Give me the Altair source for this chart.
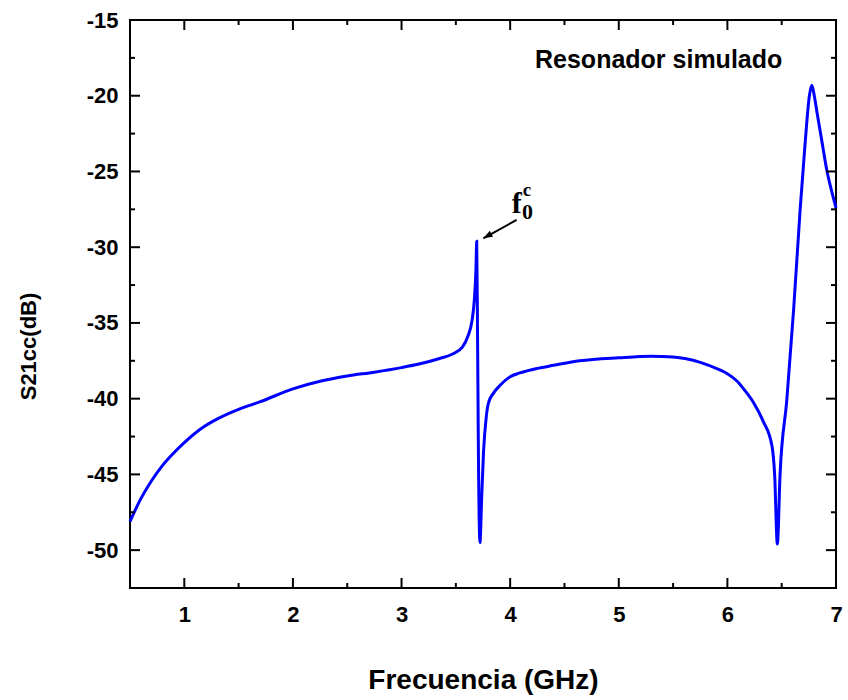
import altair as alt
import pandas as pd

# ---- data ----
freq = [0.50, 0.60, 0.70, 0.80, 0.90, 1.00, 1.15, 1.30, 1.50, 1.70, 2.00, 2.25, 2.50,
        2.75, 3.00, 3.17, 3.35, 3.47, 3.56, 3.61, 3.65, 3.67, 3.685, 3.692, 3.700,
        3.708, 3.722, 3.738, 3.755, 3.78, 3.80, 3.85, 3.91, 4.00, 4.09, 4.25, 4.40,
        4.64, 5.00, 5.30, 5.50, 5.75, 5.93, 6.00, 6.09, 6.16, 6.24, 6.33, 6.41, 6.435,
        6.46, 6.485, 6.547, 6.61, 6.67, 6.716, 6.755, 6.777, 6.80, 6.823, 6.87, 6.915,
        6.96, 7.00]
s21 = [-48.1, -46.6, -45.4, -44.4, -43.6, -42.9, -42.0, -41.35, -40.7, -40.2, -39.35,
       -38.85, -38.5, -38.25, -37.95, -37.7, -37.35, -37.05, -36.6, -35.9, -34.8, -33.5,
       -31.5, -29.6, -36.0, -43.8, -49.5, -46.5, -43.5, -41.2, -40.3, -39.6, -39.1,
       -38.55, -38.3, -38.0, -37.8, -37.5, -37.3, -37.2, -37.25, -37.6, -38.1, -38.35,
       -38.85, -39.45, -40.25, -41.5, -43.1, -45.0, -49.6, -45.0, -40.1, -34.1, -27.5,
       -23.1, -20.0, -19.3, -20.0, -21.0, -23.0, -24.9, -26.3, -27.4]

x_major = [1, 2, 3, 4, 5, 6, 7]
x_minor = [0.5, 1.5, 2.5, 3.5, 4.5, 5.5, 6.5]
y_major = [-15, -20, -25, -30, -35, -40, -45, -50]
y_minor = [-17.5, -22.5, -27.5, -32.5, -37.5, -42.5, -47.5]

label_text = ["Resonador simulado"]
label_x = [5.367]
label_y = [-18.19]

# annotation f_0^c with arrow
arrow_tail = (4.06, -28.2)
arrow_tip = (3.753, -29.41)

W, H = 706, 568
SANS = "Liberation Sans"
SERIF = "Liberation Serif"

xs = alt.Scale(domain=[0.5, 7], nice=False, zero=False)
ys = alt.Scale(domain=[-52.5, -15], nice=False, zero=False)

AX = alt.Axis(
    title="Frecuencia (GHz)", values=x_major, labelExpr="'' + datum.value",
    ticks=False, domain=False, grid=False, labelFlush=False,
    labelFont=SANS, labelFontWeight="bold", labelFontSize=22, labelPadding=16,
    labelColor="black", titleFont=SANS, titleFontWeight="bold", titleFontSize=28,
    titleColor="black", titleY=100, titleBaseline="alphabetic")
AY = alt.Axis(
    title="S21cc(dB)", values=y_major, labelExpr="'' + datum.value",
    ticks=False, domain=False, grid=False, labelFlush=False,
    labelFont=SANS, labelFontWeight="bold", labelFontSize=22, labelPadding=12,
    labelColor="black", titleFont=SANS, titleFontWeight="bold", titleFontSize=22,
    titleColor="black", titleX=-95, titleY=326, titleAngle=270,
    titleBaseline="alphabetic", titleAlign="center")


def X(field):
    return alt.X(field, scale=xs, axis=AX)


def Y(field):
    return alt.Y(field, scale=ys, axis=AY)


df = pd.DataFrame({"f": freq, "s": s21})

line = alt.Chart(df).mark_line(color="#0000ff", strokeWidth=3, interpolate="monotone").encode(
    x=X("f:Q"), y=Y("s:Q"))


def xticks(vals, y0, y1):
    return alt.Chart(pd.DataFrame({"t": vals})).mark_rule(color="black", strokeWidth=2).encode(
        x=X("t:Q"), y=alt.value(y0), y2=alt.value(y1))


def yticks(vals, x0, x1):
    return alt.Chart(pd.DataFrame({"t": vals})).mark_rule(color="black", strokeWidth=2).encode(
        y=Y("t:Q"), x=alt.value(x0), x2=alt.value(x1))


ticks = [
    xticks(x_major, H, H - 10), xticks(x_minor, H, H - 5),
    xticks(x_major, 0, 10), xticks(x_minor, 0, 5),
    yticks(y_major, 0, 10), yticks(y_minor, 0, 5),
    yticks(y_major, W, W - 10), yticks(y_minor, W, W - 5),
]

label = alt.Chart(pd.DataFrame({"x": label_x, "y": label_y, "t": label_text})).mark_text(
    font=SANS, fontWeight="bold", fontSize=25, color="black", align="center",
    baseline="alphabetic").encode(x=X("x:Q"), y=Y("y:Q"), text="t:N")

ann_f = alt.Chart(pd.DataFrame({"x": [4.061], "y": [-27.74], "t": ["f"]})).mark_text(
    font=SERIF, fontWeight="bold", fontSize=30, color="black", align="center",
    baseline="alphabetic").encode(x=X("x:Q"), y=Y("y:Q"), text="t:N")
ann_c = alt.Chart(pd.DataFrame({"x": [4.115], "y": [-26.6], "t": ["c"]})).mark_text(
    font=SERIF, fontWeight="bold", fontSize=19, color="black", align="left",
    baseline="alphabetic").encode(x=X("x:Q"), y=Y("y:Q"), text="t:N")
ann_0 = alt.Chart(pd.DataFrame({"x": [4.108], "y": [-28.15], "t": ["0"]})).mark_text(
    font=SERIF, fontWeight="bold", fontSize=22, color="black", align="left",
    baseline="alphabetic").encode(x=X("x:Q"), y=Y("y:Q"), text="t:N")

arrow_df = pd.DataFrame({"x": [arrow_tail[0]], "y": [arrow_tail[1]],
                         "x2": [arrow_tip[0]], "y2": [arrow_tip[1]]})
arrow_line = alt.Chart(arrow_df).mark_rule(color="black", strokeWidth=2).encode(
    x=X("x:Q"), y=Y("y:Q"), x2="x2:Q", y2="y2:Q")
arrow_head = alt.Chart(arrow_df).mark_point(
    shape="M0,0L-2.2,-0.8L-2.2,0.8Z", filled=True, color="black", size=70,
    angle=151, opacity=1).encode(x=X("x2:Q"), y=Y("y2:Q"))

chart = alt.layer(line, *ticks, label, ann_f, ann_c, ann_0, arrow_line, arrow_head).properties(
    width=W, height=H,
    autosize=alt.AutoSizeParams(type="none"),
    padding={"left": 130, "top": 20, "right": 12, "bottom": 112},
    background="white",
).configure_view(stroke="black", strokeWidth=2)

chart.save("out.html", embed_options={"renderer": "svg", "actions": False})
